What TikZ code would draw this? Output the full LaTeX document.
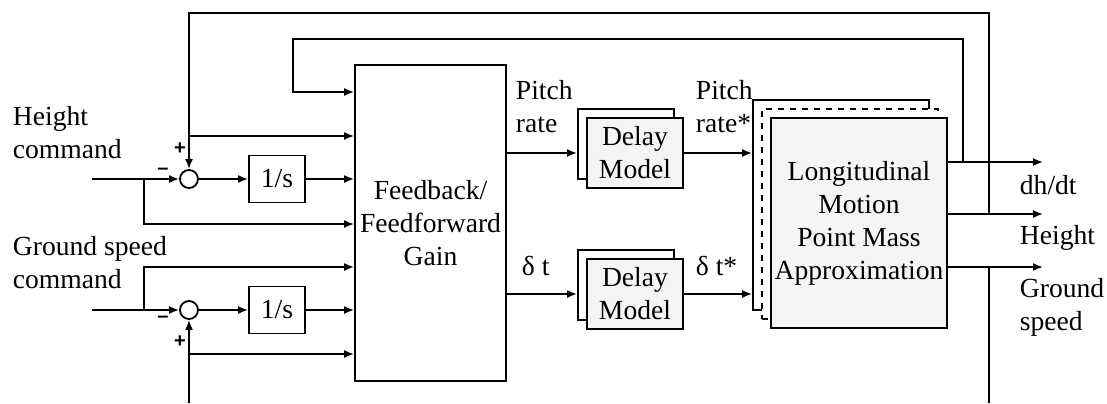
\documentclass[tikz,border=0pt]{standalone}
\usepackage{fontspec}
\setmainfont{Liberation Serif}
\newfontfamily\sgnfont{Liberation Sans}
\usetikzlibrary{arrows.meta}
\begin{document}
\begin{tikzpicture}[x=0.5pt,y=-0.5pt,line width=0.9pt,
		font=\fontsize{13.8}{16.5}\selectfont,
		blk/.style={draw,fill=white,inner sep=0pt,align=center},
		sumpt/.style={draw,circle,fill=white,minimum size=9pt,inner sep=0pt},
		lbl/.style={anchor=west,align=left,inner sep=0pt},
		sgn/.style={font=\sgnfont\bfseries\fontsize{10}{10}\selectfont,inner sep=0pt},
		arr/.style={-{Latex[length=5pt,width=4pt]}}]
		\useasboundingbox (0,0) rectangle (1107,403);
		% blocks
		\node[blk,minimum width=75.5pt,minimum height=158pt] (gain) at (430.5,223) {Feedback/\\Feedforward\\Gain};
		\node[sumpt] (s1) at (189,179) {};
		\node[sumpt] (s2) at (189,310) {};
		\node[blk,minimum width=28pt,minimum height=23.5pt] (i1) at (277,179) {1/s};
		\node[blk,minimum width=28pt,minimum height=23.5pt] (i2) at (277,310) {1/s};
		\foreach \n/\y in {1/153,2/294}{
			\node[blk,minimum width=48pt,minimum height=35pt] (dmb\n) at (626,\y-9) {};
			\node[blk,fill=gray!8,minimum width=48pt,minimum height=35pt] (dm\n) at (635,\y) {Delay\\Model};
		}
		\node[blk,minimum width=88pt,minimum height=105pt] (lmb) at (841,205) {};
		\node[blk,dashed,minimum width=88pt,minimum height=105pt] (lmm) at (850,214) {};
		\node[blk,fill=gray!8,minimum width=88pt,minimum height=105pt] (lm) at (859,223) {Longitudinal\\Motion\\Point Mass\\Approximation};
		% taps
		\coordinate (hin) at (92,179);
		\coordinate (gin) at (92,310);
		\coordinate (hb) at (144,179);
		\coordinate (gb) at (144,310);
		\coordinate (hfb) at (189,136);
		\coordinate (gfb) at (189,354);
		\coordinate (dtap) at (963,162);
		\coordinate (htap) at (989,214);
		\coordinate (gtap) at (989,267);
		\coordinate (gbot) at (989,403);
		\coordinate (sbot) at (189,403);
		% command inputs
		\draw[arr] (hin) -- (s1.west);
		\draw[arr] (hb) |- (gain.west |- 0,224);
		\draw[arr] (gin) -- (s2.west);
		\draw[arr] (gb) |- (gain.west |- 0,267);
		\draw[arr] (s1) -- (i1);
		\draw[arr] (i1) -- (gain.west |- i1);
		\draw[arr] (s2) -- (i2);
		\draw[arr] (i2) -- (gain.west |- i2);
		\draw[arr] (hfb) -- (gain.west |- hfb);
		\draw[arr] (gfb) -- (gain.west |- gfb);
		% delays
		\foreach \n in {1,2}{
			\draw[arr] (gain.east |- dm\n) -- (dmb\n.west |- dm\n);
			\draw[arr] (dm\n) -- (lmb.west |- dm\n);
		}
		% outputs
		\foreach \y/\nm in {162/dh,214/ht,267/gs}{
			\draw[arr] (lm.east |- 0,\y) -- (1043,\y) coordinate (\nm);
		}
		% feedback
		\draw[arr] (dtap) |- (293,39) -- (293,92) -- (gain.west |- 0,92);
		\draw[arr] (htap) |- (189,13) -- (s1.north);
		\draw (gtap) -- (gbot);
		\draw[arr] (sbot) -- (s2.south);
		% labels
		\node[lbl] (hcmd) at (12,133) {Height\\command};
		\node[lbl] (gcmd) at (12,263) {Ground speed\\command};
		\node[lbl] (pr) at (515,107) {Pitch\\rate};
		\node[lbl] (dt) at (521,266) {δ t};
		\node[lbl] (prs) at (695,107) {Pitch\\rate*};
		\node[lbl] (dts) at (695,266) {δ t*};
		\node[lbl] (dhl) at (1019,185) {dh/dt};
		\node[lbl] (htl) at (1019,238) {Height};
		\node[lbl] (gsl) at (1019,307) {Ground\\speed};
		\node[sgn] (p1) at (180,149) {+};
		\node[sgn] (m1) at (163,171) {–};
		\node[sgn] (m2) at (163,319) {–};
		\node[sgn] (p2) at (180,342) {+};
	\end{tikzpicture}
\end{document}
